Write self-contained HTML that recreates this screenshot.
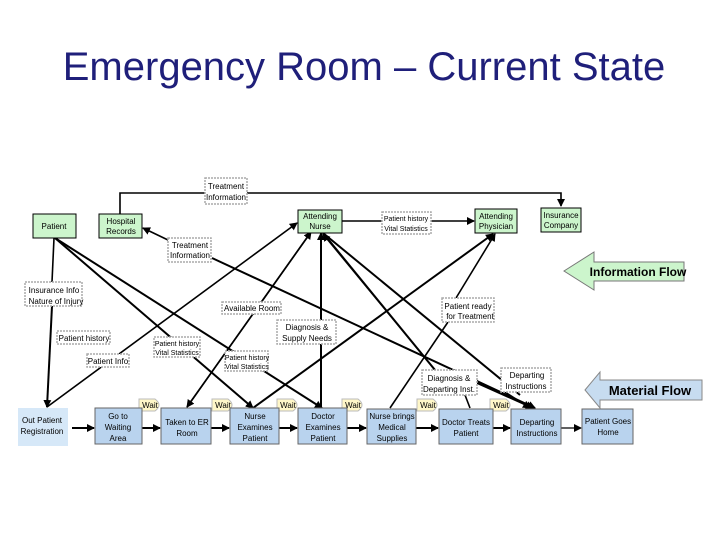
<!DOCTYPE html>
<html><head><meta charset="utf-8"><style>
body{margin:0;background:#fff;width:720px;height:540px;overflow:hidden;font-family:"Liberation Sans",sans-serif}
svg text{font-family:"Liberation Sans",sans-serif}
</style></head><body>
<svg width="720" height="540" viewBox="0 0 720 540" xmlns="http://www.w3.org/2000/svg">
<defs>
<marker id="a" markerWidth="8" markerHeight="8" refX="7" refY="4" orient="auto" markerUnits="userSpaceOnUse"><path d="M0,0 L8,4 L0,8z" fill="#000"/></marker>
</defs>
<text x="364" y="80" font-size="40" fill="#1f1f7a" text-anchor="middle">Emergency Room – Current State</text>

<g stroke="#000" stroke-width="1.6" fill="none">
<polyline points="120,214 120,193 561,193 561,206" marker-end="url(#a)"/>
<line x1="342" y1="221" x2="474" y2="221" marker-end="url(#a)"/>
<line x1="168" y1="240" x2="143" y2="228" marker-end="url(#a)"/>
<line x1="212" y1="258" x2="535" y2="408" stroke-width="2" marker-end="url(#a)"/>
<line x1="54" y1="238" x2="52" y2="282"/>
<line x1="52" y1="306" x2="47" y2="407" stroke-width="2" marker-end="url(#a)"/>
<line x1="55" y1="238" x2="253" y2="408" stroke-width="2" marker-end="url(#a)"/>
<line x1="55" y1="238" x2="322" y2="408" stroke-width="2" marker-end="url(#a)"/>
<line x1="47" y1="407" x2="297" y2="223" marker-end="url(#a)"/>
<line x1="187" y1="407" x2="311" y2="232" marker-end="url(#a)"/>
<line x1="311" y1="232" x2="187" y2="407" marker-end="url(#a)"/>
<line x1="321" y1="407" x2="321" y2="233" stroke-width="2" marker-end="url(#a)"/>
<line x1="323" y1="233" x2="435" y2="370" stroke-width="2"/>
<line x1="323" y1="233" x2="520" y2="395" stroke-width="2"/>
<line x1="465" y1="395" x2="470" y2="408"/>
<line x1="477" y1="383" x2="533" y2="408" stroke-width="2" marker-end="url(#a)"/>
<line x1="505" y1="392" x2="530" y2="408" marker-end="url(#a)"/>
<line x1="435" y1="370" x2="323" y2="234" marker-end="url(#a)"/>
<line x1="253" y1="408" x2="493" y2="234" stroke-width="2" marker-end="url(#a)"/>
<line x1="456" y1="298" x2="495" y2="234" marker-end="url(#a)"/>
<line x1="448" y1="322" x2="390" y2="408"/>
<line x1="72" y1="428" x2="94" y2="428" stroke-width="2" marker-end="url(#a)"/>
<line x1="142" y1="428" x2="160" y2="428" stroke-width="2" marker-end="url(#a)"/>
<line x1="211" y1="428" x2="229" y2="428" stroke-width="2" marker-end="url(#a)"/>
<line x1="279" y1="428" x2="297" y2="428" stroke-width="2" marker-end="url(#a)"/>
<line x1="347" y1="428" x2="366" y2="428" stroke-width="2" marker-end="url(#a)"/>
<line x1="416" y1="428" x2="438" y2="428" stroke-width="2" marker-end="url(#a)"/>
<line x1="493" y1="428" x2="510" y2="428" stroke-width="2" marker-end="url(#a)"/>
<line x1="561" y1="428" x2="581" y2="428" stroke-width="1.3" marker-end="url(#a)"/>
</g>

<g fill="#fff" stroke="#aaa" stroke-width="1.5" stroke-dasharray="2,1">
<rect x="205" y="178" width="42" height="26"/>
<rect x="168" y="238" width="43" height="24"/>
<rect x="382" y="212" width="49" height="22"/>
<rect x="25" y="282" width="57" height="24"/>
<rect x="57" y="331" width="53" height="13"/>
<rect x="87" y="354" width="42" height="13"/>
<rect x="154" y="337" width="46" height="20"/>
<rect x="225" y="351" width="43" height="20"/>
<rect x="222" y="302" width="59" height="12"/>
<rect x="277" y="320" width="59" height="24"/>
<rect x="442" y="298" width="52" height="24"/>
<rect x="422" y="370" width="55" height="25"/>
<rect x="501" y="368" width="50" height="24"/>
</g>
<g font-size="8" fill="#000" text-anchor="middle">
<text x="226" y="189">Treatment</text><text x="226" y="200">Information</text>
<text x="190" y="248">Treatment</text><text x="190" y="258">Information</text>
<text x="406" y="221" font-size="7">Patient history</text><text x="406" y="231" font-size="7">Vital Statistics</text>
<text x="54" y="293">Insurance Info</text><text x="56" y="304">Nature of Injury</text>
<text x="84" y="341">Patient history</text>
<text x="108" y="364">Patient Info</text>
<text x="177" y="346" font-size="7">Patient history</text><text x="177" y="355" font-size="7">Vital Statistics</text>
<text x="247" y="360" font-size="7">Patient history</text><text x="247" y="369" font-size="7">Vital Statistics</text>
<text x="252" y="311">Available Room</text>
<text x="307" y="330">Diagnosis &amp;</text><text x="307" y="341">Supply Needs</text>
<text x="468" y="309">Patient ready</text><text x="470" y="319">for Treatment</text>
<text x="449" y="381">Diagnosis &amp;</text><text x="449" y="392">Departing Inst.</text>
<text x="527" y="378">Departing</text><text x="526" y="389">Instructions</text>
</g>

<g fill="#ccf5cc" stroke="#000" stroke-width="1">
<rect x="33" y="214" width="43" height="24"/>
<rect x="99" y="214" width="43" height="24"/>
<rect x="298" y="210" width="44" height="23"/>
<rect x="475" y="209" width="42" height="24"/>
<rect x="541" y="208" width="40" height="24"/>
</g>
<g font-size="8" fill="#000" text-anchor="middle">
<text x="54" y="229">Patient</text>
<text x="121" y="224">Hospital</text><text x="121" y="234">Records</text>
<text x="320" y="219">Attending</text><text x="320" y="229">Nurse</text>
<text x="496" y="219">Attending</text><text x="496" y="229">Physician</text>
<text x="561" y="218">Insurance</text><text x="561" y="228">Company</text>
</g>

<polygon points="564,271 594,252 594,262 684,262 684,281 594,281 594,290" fill="#ccf5cc" stroke="#777"/>
<text x="638" y="276" font-size="12" font-weight="bold" text-anchor="middle">Information Flow</text>
<polygon points="585,390 600,372 600,380 702,380 702,400 600,400 600,408" fill="#c7dcf0" stroke="#888"/>
<text x="650" y="395" font-size="13" font-weight="bold" text-anchor="middle">Material  Flow</text>

<g fill="#fff7c8" stroke="#bbb">
<path d="M139,411 V399 H155 Q163,405 155,411 Z"/>
<path d="M212,411 V399 H228 Q236,405 228,411 Z"/>
<path d="M277,411 V399 H293 Q301,405 293,411 Z"/>
<path d="M342,411 V399 H358 Q366,405 358,411 Z"/>
<path d="M417,411 V399 H433 Q441,405 433,411 Z"/>
<path d="M490,411 V399 H506 Q514,405 506,411 Z"/>
</g>
<g font-size="8" text-anchor="middle">
<text x="150" y="408">Wait</text><text x="223" y="408">Wait</text><text x="288" y="408">Wait</text>
<text x="353" y="408">Wait</text><text x="428" y="408">Wait</text><text x="501" y="408">Wait</text>
</g>

<rect x="18" y="408" width="50" height="38" fill="#d6e8f8"/>
<g fill="#b9d3ee" stroke="#666" stroke-width="1">
<rect x="95" y="408" width="47" height="36"/>
<rect x="161" y="408" width="50" height="36"/>
<rect x="230" y="408" width="49" height="36"/>
<rect x="298" y="408" width="49" height="36"/>
<rect x="367" y="409" width="49" height="35"/>
<rect x="439" y="409" width="54" height="35"/>
<rect x="511" y="409" width="50" height="35"/>
<rect x="582" y="409" width="51" height="35"/>
</g>
<g font-size="8" text-anchor="middle" fill="#000">
<text x="42" y="423">Out Patient</text><text x="42" y="434">Registration</text>
<text x="118" y="419">Go to</text><text x="118" y="430">Waiting</text><text x="118" y="441">Area</text>
<text x="187" y="425">Taken to ER</text><text x="187" y="436">Room</text>
<text x="255" y="419">Nurse</text><text x="255" y="430">Examines</text><text x="255" y="441">Patient</text>
<text x="323" y="419">Doctor</text><text x="323" y="430">Examines</text><text x="323" y="441">Patient</text>
<text x="392" y="419">Nurse brings</text><text x="392" y="430">Medical</text><text x="392" y="441">Supplies</text>
<text x="466" y="425">Doctor Treats</text><text x="466" y="436">Patient</text>
<text x="537" y="425">Departing</text><text x="537" y="436">Instructions</text>
<text x="608" y="424">Patient Goes</text><text x="608" y="435">Home</text>
</g>
</svg>
</body></html>
